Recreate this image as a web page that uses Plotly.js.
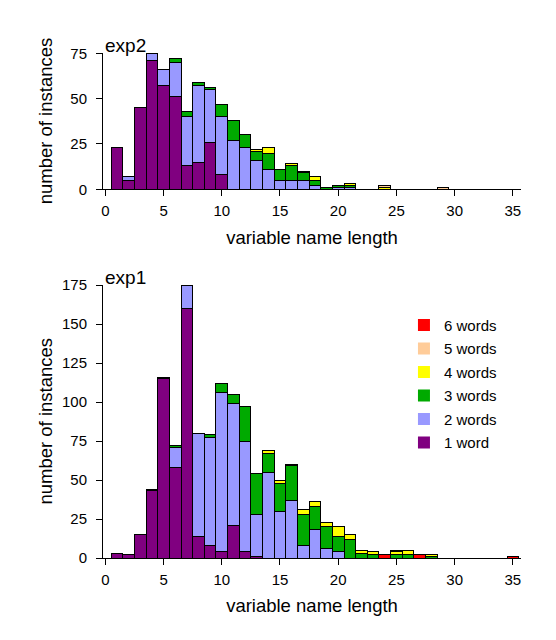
<!DOCTYPE html>
<html>
<head>
<meta charset="utf-8">
<script src="https://cdn.plot.ly/plotly-3.0.1.min.js"></script>
<style>
  body { margin: 0; background: #fff; }
  #chart { width: 556px; height: 640px; }
</style>
</head>
<body>
<div id="chart"></div>
<script>
// name lengths 1..35
const lengths = Array.from({length: 35}, (_, i) => i + 1);

const groups = ['1 word', '2 words', '3 words', '4 words', '5 words', '6 words'];
const colors = ['#800080', '#9999ff', '#00aa00', '#ffff00', '#ffcc99', '#ff0000'];

// exp2 counts per length (index 0 = length 1)
const exp2_w1 = [23, 5, 45, 71, 57, 51, 13, 15, 26, 8, 0, 0, 0, 0, 0, 0, 0, 0, 0, 0, 0, 0, 0, 0, 0, 0, 0, 0, 0, 0, 0, 0, 0, 0, 0];
const exp2_w2 = [0, 2, 0, 4, 9, 19, 27, 42, 29, 32, 27, 23, 16, 11, 5, 5, 5, 2, 0, 1, 1, 0, 0, 0, 0, 0, 0, 0, 0, 0, 0, 0, 0, 0, 0];
const exp2_w3 = [0, 0, 0, 0, 0, 2, 3, 2, 1, 7, 11, 7, 5, 9, 6, 8, 4, 3, 1, 1, 1, 0, 0, 0, 0, 0, 0, 0, 0, 0, 0, 0, 0, 0, 0];
const exp2_w4 = [0, 0, 0, 0, 0, 0, 0, 0, 0, 0, 0, 0, 1, 3, 0, 1, 1, 2, 0, 0, 1, 0, 0, 1, 0, 0, 0, 0, 0, 0, 0, 0, 0, 0, 0];
const exp2_w5 = [0, 0, 0, 0, 0, 0, 0, 0, 0, 0, 0, 0, 0, 0, 0, 0, 0, 0, 0, 0, 0, 0, 0, 1, 0, 0, 0, 0, 1, 0, 0, 0, 0, 0, 0];
const exp2_w6 = [0, 0, 0, 0, 0, 0, 0, 0, 0, 0, 0, 0, 0, 0, 0, 0, 0, 0, 0, 0, 0, 0, 0, 0, 0, 0, 0, 0, 0, 0, 0, 0, 0, 0, 0];

// exp1 counts per length
const exp1_w1 = [3, 2, 15, 43, 115, 58, 160, 14, 8, 4, 21, 4, 1, 0, 0, 0, 0, 0, 0, 0, 0, 0, 0, 0, 0, 0, 0, 0, 0, 0, 0, 0, 0, 0, 0];
const exp1_w2 = [0, 0, 0, 1, 1, 13, 15, 66, 69, 102, 78, 71, 27, 55, 30, 37, 8, 18, 6, 4, 0, 0, 0, 0, 0, 0, 0, 0, 0, 0, 0, 0, 0, 0, 0];
const exp1_w3 = [0, 0, 0, 0, 0, 1, 0, 0, 2, 6, 6, 22, 26, 12, 18, 22, 20, 15, 14, 10, 12, 3, 2, 0, 2, 2, 0, 1, 0, 0, 0, 0, 0, 0, 0];
const exp1_w4 = [0, 0, 0, 0, 0, 0, 0, 0, 0, 0, 0, 0, 0, 2, 2, 1, 3, 3, 3, 6, 3, 2, 2, 0, 2, 3, 0, 1, 0, 0, 0, 0, 0, 0, 0];
const exp1_w5 = [0, 0, 0, 0, 0, 0, 0, 0, 0, 0, 0, 0, 0, 0, 0, 0, 0, 0, 0, 0, 0, 0, 0, 0, 1, 0, 0, 0, 0, 0, 0, 0, 0, 0, 0];
const exp1_w6 = [0, 0, 0, 0, 0, 0, 0, 0, 0, 0, 0, 0, 0, 0, 0, 0, 0, 0, 0, 0, 0, 0, 0, 2, 0, 0, 2, 0, 0, 0, 0, 0, 0, 0, 1];

const exp2 = [exp2_w1, exp2_w2, exp2_w3, exp2_w4, exp2_w5, exp2_w6];
const exp1 = [exp1_w1, exp1_w2, exp1_w3, exp1_w4, exp1_w5, exp1_w6];

const traces = [];
function addStack(series, xa, ya) {
    series.forEach((vals, i) => {
        traces.push({
            type: 'bar', x: lengths, y: vals, xaxis: xa, yaxis: ya,
            width: 1, showlegend: false, hoverinfo: 'skip',
            marker: { color: colors[i], line: { color: '#000', width: 1 } }
        });
    });
}
addStack(exp2, 'x', 'y');
addStack(exp1, 'x2', 'y2');

// legend entries, 6 words on top, no border on the swatches
for (let i = groups.length - 1; i >= 0; i--) {
    traces.push({
        type: 'bar', x: [null], y: [null], xaxis: 'x2', yaxis: 'y2',
        name: groups[i], legendgroup: groups[i], showlegend: true,
        marker: { color: colors[i], line: { width: 0 } }
    });
}

const font = { family: 'Liberation Sans, Arial, sans-serif', color: '#000' };
const xbase = {
    range: [-0.2, 35.7], tickvals: [0, 5, 10, 15, 20, 25, 30, 35],
    showline: true, linecolor: '#000', linewidth: 1, ticks: 'outside', ticklen: 6,
    tickcolor: '#000', showgrid: false, zeroline: false, ticklabelstandoff: 2,
    tickfont: { size: 15 }, automargin: false
};
const ybase = {
    showline: true, linecolor: '#000', linewidth: 1, ticks: 'outside', ticklen: 6,
    tickcolor: '#000', showgrid: false, zeroline: false, ticklabelstandoff: 6,
    tickfont: { size: 15 }, automargin: false
};

const layout = {
    width: 556, height: 640,
    margin: { l: 103, r: 34.5, t: 20, b: 40 },
    font: font,
    paper_bgcolor: '#fff', plot_bgcolor: '#fff',
    barmode: 'stack', bargap: 0,
    showlegend: true,
    legend: {
        x: 0.72, y: 0.502, xanchor: 'left', yanchor: 'top',
        traceorder: 'grouped', tracegroupgap: 1,
        font: { size: 15 }, bgcolor: 'rgba(0,0,0,0)'
    },
    xaxis: Object.assign({}, xbase, { anchor: 'y', title: { text: 'variable name length', font: { size: 18.5 }, standoff: 12 } }),
    yaxis: Object.assign({}, ybase, { anchor: 'x', domain: [0.7081, 0.9426], range: [0, 75], tickvals: [0, 25, 50, 75] }),
    xaxis2: Object.assign({}, xbase, { anchor: 'y2', title: { text: 'variable name length', font: { size: 18.5 }, standoff: 12 } }),
    yaxis2: Object.assign({}, ybase, { anchor: 'x2', domain: [0.0724, 0.5431], range: [0, 175], tickvals: [0, 25, 50, 75, 100, 125, 150, 175] }),
    annotations: [
        { text: 'exp2', xref: 'x', yref: 'y', x: 0, y: 75, xanchor: 'left', yanchor: 'bottom', showarrow: false, font: { size: 19 }, xshift: -2, yshift: -5 },
        { text: 'exp1', xref: 'x2', yref: 'y2', x: 0, y: 175, xanchor: 'left', yanchor: 'bottom', showarrow: false, font: { size: 19 }, xshift: -2, yshift: -5 },
        { text: 'number of instances', xref: 'paper', yref: 'paper', x: -0.1386, y: 0.8254, xanchor: 'center', yanchor: 'middle', textangle: -90, showarrow: false, font: { size: 18.5 } },
        { text: 'number of instances', xref: 'paper', yref: 'paper', x: -0.1386, y: 0.3078, xanchor: 'center', yanchor: 'middle', textangle: -90, showarrow: false, font: { size: 18.5 } }
    ]
};

Plotly.newPlot('chart', traces, layout, { displayModeBar: false, staticPlot: true });
</script>
</body>
</html>
